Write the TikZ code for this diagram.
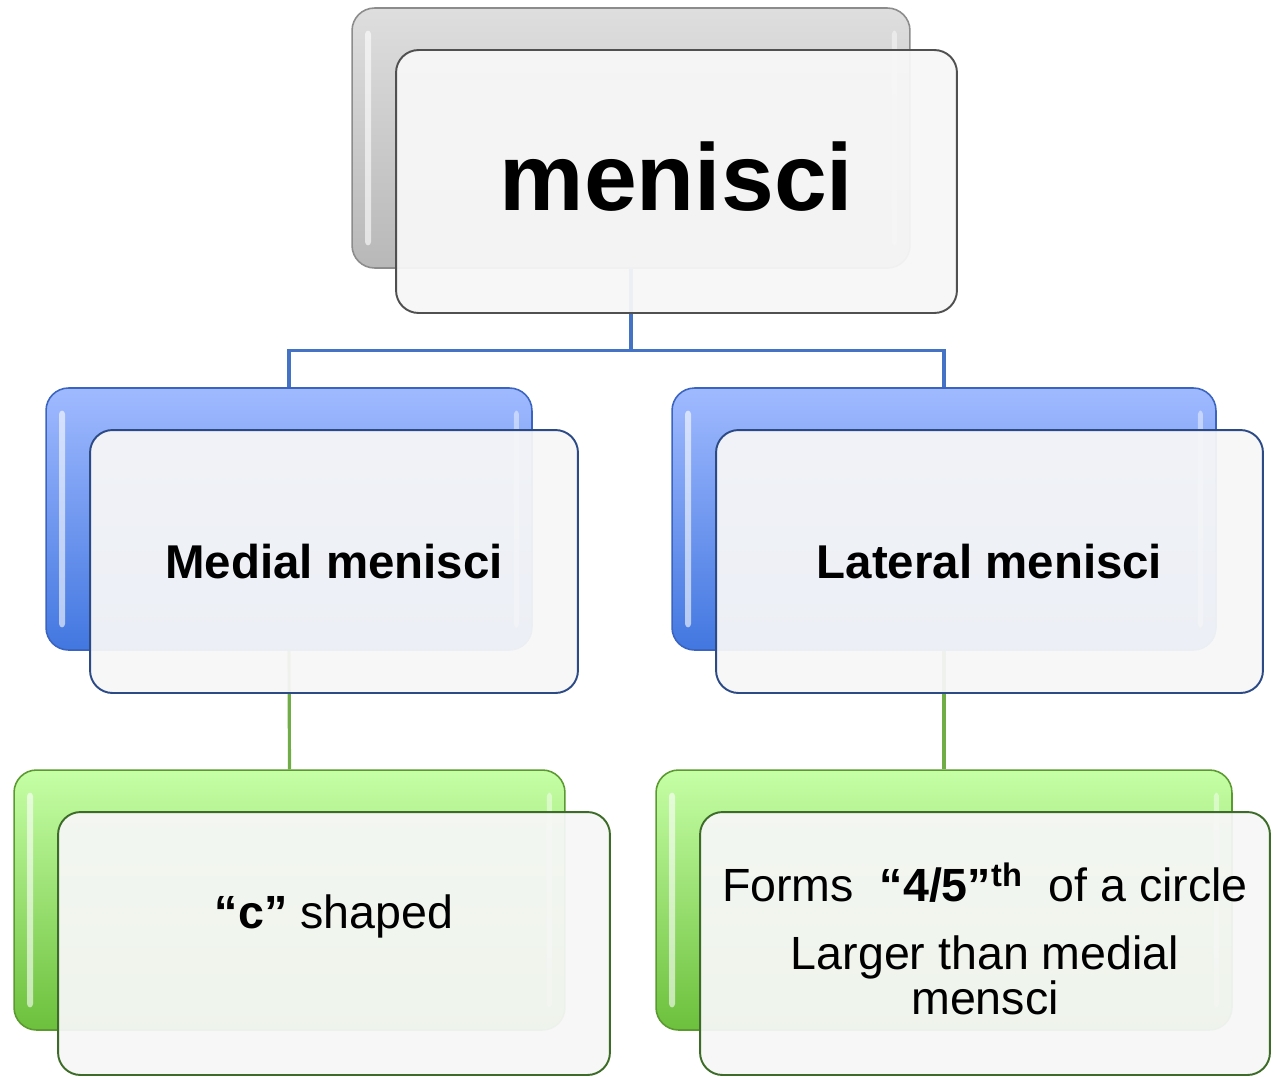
\documentclass[tikz,border=0pt]{standalone}
\usepackage{fontspec}
\setmainfont{Liberation Sans}
\usetikzlibrary{backgrounds}
\definecolor{graytop}{HTML}{DEDEDE}
\definecolor{graybot}{HTML}{B8B8B8}
\definecolor{graydraw}{HTML}{8C8C8C}
\definecolor{bluetop}{HTML}{A0BAFF}
\definecolor{bluebot}{HTML}{4277E0}
\definecolor{bluedraw}{HTML}{3A64C0}
\definecolor{greentop}{HTML}{C6FFA6}
\definecolor{greenbot}{HTML}{6CC03C}
\definecolor{greendraw}{HTML}{5A9A30}
\definecolor{frontgray}{HTML}{505050}
\definecolor{frontblue}{HTML}{2C4A85}
\definecolor{frontgreen}{HTML}{3C6C28}
\definecolor{linkblue}{HTML}{4472C4}
\definecolor{linkgreen}{HTML}{70AD47}
\newcommand\toptxt{\fontsize{54}{60}\selectfont\bfseries}
\newcommand\midtxt{\fontsize{27}{30}\selectfont\bfseries}
\newcommand\lowtxt{\fontsize{26.5}{28.5}\selectfont}
\begin{document}
\begin{tikzpicture}[x=0.02cm, y=-0.02cm, line cap=round, line join=round,
	box/.style={rectangle, rounded corners=0.45cm, inner sep=0pt, align=center},
	gloss/.style={path picture={
		\fill[white, opacity=0.6, rounded corners=2pt]
			([xshift=0.26cm, yshift=-0.45cm]path picture bounding box.north west) rectangle
			([xshift=0.38cm, yshift=0.45cm]path picture bounding box.south west);
		\fill[white, opacity=0.45, rounded corners=2pt]
			([xshift=-0.26cm, yshift=-0.45cm]path picture bounding box.north east) rectangle
			([xshift=-0.36cm, yshift=0.45cm]path picture bounding box.south east);}},
	backgray/.style={box, gloss, draw=graydraw, line width=0.9pt, top color=graytop, bottom color=graybot},
	backblue/.style={box, gloss, draw=bluedraw, line width=0.9pt, top color=bluetop, bottom color=bluebot},
	backgreen/.style={box, gloss, draw=greendraw, line width=0.9pt, top color=greentop, bottom color=greenbot},
	front/.style={box, line width=1.1pt, fill=gray!6, fill opacity=0.94, text opacity=1},
	bluelink/.style={draw=linkblue, line width=1.8pt, line cap=butt},
	greenlink/.style={draw=linkgreen, line width=1.8pt, line cap=butt}]
	\useasboundingbox (0,0) rectangle (1274,1076);

	% === TOP: menisci ===
	\node[backgray, minimum width=11.16cm, minimum height=5.2cm] (menb) at (631,138) {};
	\node[front, draw=frontgray, minimum width=11.22cm, minimum height=5.26cm, text depth=0.2cm] (menf) at (676.5,181.5) {\toptxt menisci};

	% === MIDDLE: medial / lateral ===
	\node[backblue, minimum width=9.72cm, minimum height=5.24cm] (medb) at (289,519) {};
	\node[front, draw=frontblue, minimum width=9.76cm, minimum height=5.26cm] (medf) at (334,561.5) {\midtxt Medial menisci};
	\node[backblue, minimum width=10.88cm, minimum height=5.24cm] (latb) at (944,519) {};
	\node[front, draw=frontblue, minimum width=10.94cm, minimum height=5.26cm] (latf) at (989.5,561.5) {\midtxt Lateral menisci};

	% === BOTTOM: shape / size ===
	\node[backgreen, minimum width=11.02cm, minimum height=5.2cm] (shapeb) at (289.5,900) {};
	\node[front, draw=frontgreen, minimum width=11.04cm, minimum height=5.26cm, text height=0.7cm, text depth=1.3cm] (shapef) at (334,943.5)
		{\lowtxt\textbf{“c”} shaped};
	\node[backgreen, minimum width=11.52cm, minimum height=5.2cm] (formb) at (944,900) {};
	\node[front, draw=frontgreen, minimum width=11.4cm, minimum height=5.26cm, text depth=0.2cm] (formf) at (985,943.5)
		{\lowtxt Forms~~\textbf{“4/5”\textsuperscript{th}}~~of a circle\\[0.62cm]
		 \lowtxt Larger than medial\\ \lowtxt mensci};

	% connectors, behind the boxes
	\begin{pgfonlayer}{background}
		\draw[bluelink] (menb.south) -- ++(0,82) -| (medb.north);
		\draw[bluelink] (menb.south) -- ++(0,82) -| (latb.north);
		\draw[greenlink] (medb.south) -- (shapeb.north);
		\draw[greenlink] (latb.south) -- (formb.north);
	\end{pgfonlayer}
\end{tikzpicture}
\end{document}
